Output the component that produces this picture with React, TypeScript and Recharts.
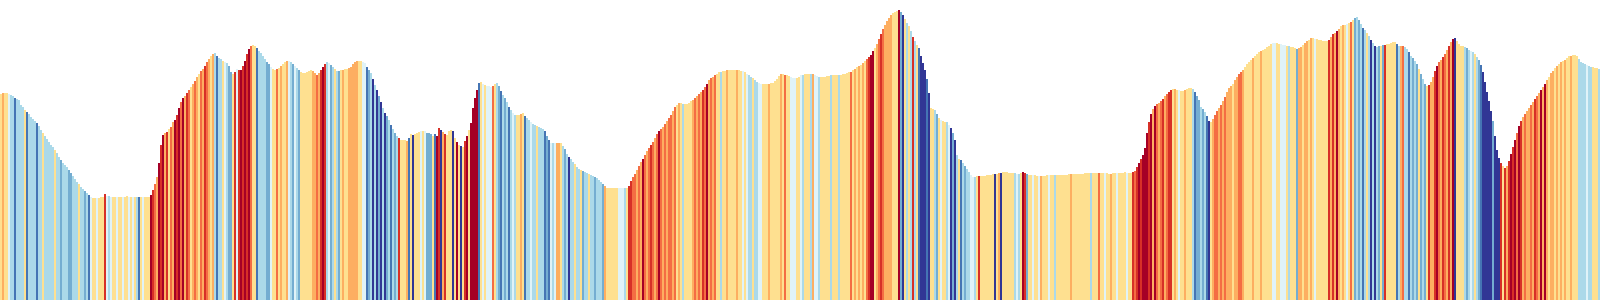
import { BarChart, Bar, XAxis, YAxis, Cell } from "recharts";

// RdYlBu stripe palette, index 0 = coldest, 9 = warmest
const PALETTE = [
  "#313695", "#4575b4", "#74add1", "#abd9e9", "#e0f3f8",
  "#fee090", "#fdae61", "#f46d43", "#d73027", "#a50026",
];

// elevation profile, 100 samples per block
const elevation0 = [
  206, 207, 207, 207, 206, 205, 204, 202, 201, 200,
  195, 193, 190, 188, 186, 183, 181, 179, 177, 174,
  170, 167, 164, 161, 158, 155, 153, 150, 147, 143,
  140, 137, 135, 133, 130, 127, 124, 121, 118, 116,
  113, 111, 109, 107, 105, 103, 102, 102, 102, 102,
  103, 103, 106, 104, 104, 103, 103, 103, 103, 103,
  103, 103, 103, 104, 103, 103, 103, 103, 103, 103,
  103, 103, 103, 103, 103, 105, 110, 116, 123, 137,
  155, 165, 167, 168, 171, 173, 178, 180, 185, 192,
  198, 202, 204, 207, 210, 213, 216, 219, 223, 226,
];
const elevation1 = [
  229, 231, 234, 238, 241, 244, 246, 247, 244, 242,
  241, 239, 238, 237, 234, 228, 226, 228, 231, 230,
  230, 234, 239, 246, 251, 254, 255, 254, 252, 249,
  247, 244, 241, 238, 236, 233, 231, 230, 231, 232,
  234, 236, 238, 239, 239, 238, 236, 234, 232, 230,
  228, 227, 227, 228, 229, 230, 229, 227, 225, 227,
  230, 233, 236, 238, 237, 235, 233, 231, 229, 229,
  230, 230, 231, 231, 232, 233, 236, 238, 239, 239,
  239, 238, 237, 233, 230, 227, 221, 215, 210, 204,
  198, 192, 187, 184, 180, 175, 171, 167, 164, 162,
];
const elevation2 = [
  160, 160, 160, 159, 162, 166, 165, 166, 167, 168,
  169, 169, 169, 167, 167, 166, 164, 166, 164, 172,
  170, 168, 166, 165, 169, 170, 169, 162, 158, 155,
  154, 153, 159, 164, 170, 177, 192, 202, 210, 217,
  218, 216, 215, 214, 214, 213, 214, 216, 217, 214,
  209, 205, 202, 198, 193, 190, 187, 185, 185, 185,
  186, 187, 184, 182, 180, 178, 176, 175, 174, 173,
  172, 171, 169, 164, 160, 157, 157, 157, 157, 157,
  157, 154, 151, 146, 143, 141, 138, 136, 133, 131,
  130, 129, 128, 127, 126, 125, 124, 123, 122, 120,
];
const elevation3 = [
  118, 116, 114, 112, 112, 112, 112, 112, 112, 112,
  112, 112, 112, 112, 114, 119, 123, 126, 130, 134,
  138, 141, 145, 149, 152, 155, 158, 162, 166, 169,
  171, 173, 176, 179, 182, 185, 189, 193, 195, 197,
  197, 196, 196, 196, 197, 199, 200, 202, 204, 206,
  208, 210, 213, 216, 220, 222, 223, 225, 226, 228,
  228, 229, 229, 230, 230, 230, 230, 230, 230, 230,
  229, 229, 228, 226, 225, 223, 222, 220, 218, 217,
  216, 216, 216, 216, 216, 217, 217, 219, 221, 224,
  226, 226, 225, 225, 224, 223, 222, 222, 222, 223,
];
const elevation4 = [
  225, 225, 226, 226, 226, 226, 226, 225, 224, 223,
  223, 223, 223, 224, 224, 225, 225, 225, 225, 225,
  225, 226, 226, 227, 228, 228, 230, 231, 233, 234,
  235, 237, 239, 241, 243, 245, 249, 252, 256, 261,
  266, 271, 275, 279, 282, 285, 287, 288, 289, 290,
  288, 285, 281, 277, 274, 269, 263, 259, 255, 252,
  244, 237, 230, 221, 207, 192, 191, 190, 186, 182,
  180, 179, 178, 178, 175, 172, 167, 160, 145, 141,
  140, 137, 134, 131, 128, 125, 123, 123, 124, 124,
  124, 124, 124, 125, 125, 125, 126, 126, 126, 127,
];
const elevation5 = [
  127, 128, 128, 128, 127, 127, 127, 127, 126, 126,
  127, 128, 127, 126, 125, 125, 125, 125, 124, 124,
  124, 124, 124, 125, 125, 125, 125, 125, 125, 125,
  125, 125, 125, 125, 126, 126, 126, 126, 126, 126,
  126, 126, 127, 127, 127, 127, 127, 127, 127, 127,
  127, 127, 127, 127, 126, 126, 127, 127, 127, 127,
  127, 127, 128, 127, 127, 127, 128, 129, 133, 137,
  141, 145, 152, 167, 178, 186, 191, 194, 196, 197,
  199, 201, 204, 206, 208, 210, 211, 211, 210, 210,
  209, 209, 210, 211, 212, 212, 211, 208, 204, 200,
];
const elevation6 = [
  193, 191, 188, 184, 179, 178, 181, 185, 189, 192,
  195, 199, 203, 208, 212, 214, 216, 220, 223, 226,
  228, 230, 233, 236, 238, 240, 242, 244, 246, 248,
  249, 250, 251, 253, 254, 256, 257, 257, 257, 256,
  256, 255, 255, 254, 254, 253, 253, 252, 251, 252,
  253, 255, 257, 259, 260, 262, 262, 261, 261, 260,
  260, 259, 259, 259, 260, 263, 266, 267, 269, 271,
  274, 275, 275, 276, 277, 278, 280, 282, 283, 280,
  276, 272, 270, 267, 264, 260, 257, 254, 253, 254,
  254, 255, 255, 256, 256, 257, 258, 258, 256, 254,
];
const elevation7 = [
  254, 254, 253, 251, 248, 244, 242, 239, 236, 231,
  226, 221, 216, 214, 215, 218, 223, 229, 234, 238,
  240, 243, 246, 250, 254, 258, 261, 262, 259, 256,
  254, 254, 253, 252, 250, 249, 248, 246, 243, 240,
  235, 228, 218, 208, 199, 189, 179, 164, 150, 142,
  137, 134, 132, 134, 139, 146, 153, 160, 167, 174,
  179, 183, 186, 189, 192, 195, 198, 201, 204, 207,
  210, 213, 216, 220, 223, 227, 229, 232, 234, 236,
  238, 239, 240, 242, 244, 244, 245, 245, 244, 241,
  238, 237, 236, 235, 234, 233, 233, 232, 232, 231,
];

// stripe colour class per sample (index into PALETTE)
const stripe0 = [
  5, 6, 5, 5, 4, 3, 3, 1, 3, 3, 3, 3, 5, 1, 3, 3, 3, 3, 1, 3,
  3, 5, 3, 3, 3, 3, 3, 5, 3, 3, 2, 3, 3, 3, 2, 2, 3, 3, 3, 5,
  3, 3, 2, 3, 1, 4, 5, 5, 4, 5, 5, 5, 8, 4, 3, 4, 5, 5, 4, 5,
  5, 4, 5, 5, 4, 5, 4, 5, 3, 1, 5, 4, 5, 5, 5, 9, 8, 7, 6, 9,
  8, 9, 6, 8, 5, 7, 6, 9, 8, 9, 7, 9, 6, 8, 7, 5, 6, 7, 6, 5,
];
const stripe1 = [
  7, 6, 8, 7, 6, 5, 6, 3, 1, 3, 3, 5, 4, 3, 2, 2, 5, 8, 4, 8,
  9, 8, 9, 8, 9, 7, 5, 5, 1, 3, 3, 3, 3, 2, 2, 4, 5, 5, 7, 5,
  6, 5, 5, 6, 4, 3, 2, 4, 3, 2, 5, 5, 5, 5, 5, 5, 6, 6, 7, 6,
  8, 9, 8, 3, 4, 2, 3, 5, 3, 2, 5, 6, 5, 5, 6, 6, 6, 6, 6, 5,
  5, 4, 4, 1, 2, 3, 0, 3, 0, 2, 0, 3, 0, 2, 3, 1, 3, 2, 3, 8,
];
const stripe2 = [
  5, 5, 5, 6, 1, 5, 0, 5, 5, 5, 4, 5, 4, 2, 2, 2, 5, 1, 9, 8,
  0, 6, 8, 5, 5, 5, 0, 5, 9, 5, 0, 5, 8, 9, 5, 9, 9, 9, 9, 1,
  5, 4, 5, 4, 4, 4, 7, 5, 3, 2, 1, 3, 2, 3, 1, 3, 4, 3, 5, 5,
  6, 5, 1, 3, 3, 4, 3, 3, 5, 3, 3, 3, 1, 2, 1, 4, 3, 4, 6, 6,
  5, 3, 2, 3, 0, 3, 3, 5, 3, 3, 5, 2, 3, 3, 5, 3, 3, 2, 3, 3,
];
const stripe3 = [
  3, 2, 6, 5, 5, 5, 5, 5, 5, 4, 4, 4, 3, 5, 8, 8, 7, 7, 6, 7,
  6, 9, 7, 6, 7, 8, 7, 6, 7, 9, 7, 6, 7, 6, 7, 7, 6, 7, 5, 6,
  5, 3, 5, 5, 5, 5, 6, 7, 6, 7, 6, 8, 7, 9, 6, 7, 6, 7, 5, 5,
  3, 5, 5, 6, 5, 5, 5, 5, 6, 5, 5, 4, 5, 4, 3, 3, 5, 3, 3, 4,
  4, 5, 5, 5, 6, 5, 5, 5, 5, 5, 6, 5, 7, 5, 5, 4, 4, 4, 5, 5,
];
const stripe4 = [
  4, 3, 5, 5, 5, 3, 6, 4, 4, 3, 5, 5, 5, 5, 5, 3, 5, 5, 5, 3,
  5, 5, 5, 5, 5, 7, 5, 6, 5, 6, 5, 6, 5, 7, 8, 9, 9, 5, 6, 7,
  8, 7, 6, 6, 6, 6, 5, 5, 5, 9, 2, 0, 5, 3, 5, 3, 8, 3, 5, 1,
  0, 0, 0, 1, 0, 5, 5, 3, 2, 5, 4, 5, 5, 3, 4, 0, 2, 0, 3, 5,
  1, 3, 2, 3, 3, 4, 4, 3, 5, 8, 5, 5, 5, 5, 5, 5, 5, 0, 5, 6,
];
const stripe5 = [
  0, 5, 5, 5, 5, 5, 5, 3, 4, 3, 5, 9, 8, 2, 5, 5, 4, 5, 5, 4,
  6, 5, 5, 5, 4, 5, 5, 3, 5, 5, 5, 5, 5, 5, 5, 6, 5, 5, 5, 5,
  5, 5, 5, 5, 5, 3, 5, 5, 5, 7, 5, 5, 4, 5, 5, 6, 5, 5, 4, 5,
  5, 5, 5, 4, 5, 5, 8, 7, 8, 9, 8, 9, 9, 9, 8, 9, 6, 9, 7, 6,
  7, 8, 6, 7, 8, 8, 5, 6, 5, 4, 5, 5, 6, 5, 5, 5, 3, 1, 2, 2,
];
const stripe6 = [
  3, 2, 3, 1, 0, 5, 6, 7, 7, 6, 7, 6, 7, 6, 6, 6, 5, 6, 6, 7,
  7, 6, 5, 5, 5, 5, 6, 5, 5, 5, 6, 5, 5, 5, 5, 5, 4, 4, 5, 5,
  4, 4, 4, 5, 3, 5, 5, 5, 2, 6, 6, 5, 6, 6, 5, 6, 5, 4, 5, 5,
  5, 5, 5, 5, 8, 6, 8, 6, 9, 6, 5, 6, 5, 4, 5, 7, 5, 2, 3, 2,
  3, 1, 3, 5, 3, 0, 3, 0, 3, 2, 5, 2, 8, 5, 5, 5, 5, 5, 1, 3,
];
const stripe7 = [
  6, 7, 3, 3, 1, 3, 2, 3, 2, 5, 2, 3, 2, 5, 8, 6, 6, 8, 9, 7,
  6, 8, 7, 6, 8, 6, 9, 0, 5, 5, 5, 5, 3, 2, 3, 4, 3, 5, 3, 2,
  1, 0, 0, 0, 0, 0, 2, 0, 0, 0, 8, 5, 8, 6, 8, 9, 8, 9, 7, 9,
  8, 6, 7, 6, 6, 7, 6, 8, 7, 6, 9, 6, 9, 6, 5, 6, 6, 5, 6, 5,
  6, 5, 6, 5, 5, 6, 5, 5, 5, 3, 3, 3, 3, 4, 3, 3, 5, 5, 5, 3,
];

const elevation = [
  ...elevation0, ...elevation1, ...elevation2, ...elevation3,
  ...elevation4, ...elevation5, ...elevation6, ...elevation7,
];
const stripes = [
  ...stripe0, ...stripe1, ...stripe2, ...stripe3,
  ...stripe4, ...stripe5, ...stripe6, ...stripe7,
];

const chartData = elevation.map((value, idx) => ({ idx, value, code: stripes[idx] ?? 5 }));

export default function App() {
  return (
    <div style={{ position: "absolute", left: 0, top: 0, width: 1600, height: 300, background: "#fff" }}>
      <BarChart
        width={1600}
        height={300}
        data={chartData}
        margin={{ top: 0, right: 0, bottom: 0, left: 0 }}
        barCategoryGap={0}
        barGap={0}
      >
        <XAxis dataKey="idx" hide />
        <YAxis hide domain={[0, 300]} />
        <Bar dataKey="value" isAnimationActive={false}>
          {chartData.map((d) => (
            <Cell key={`stripe-${d.idx}`} fill={PALETTE[d.code]} />
          ))}
        </Bar>
      </BarChart>
    </div>
  );
}
